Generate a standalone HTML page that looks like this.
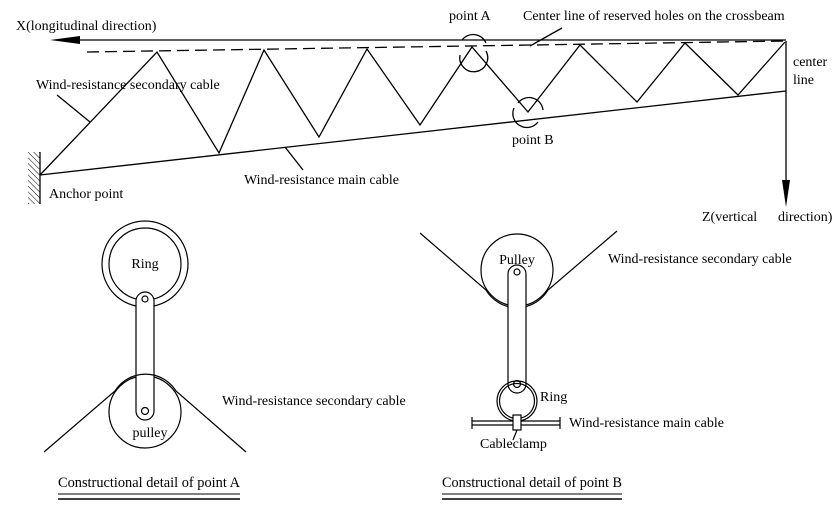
<!DOCTYPE html>
<html><head><meta charset="utf-8"><style>
html,body{margin:0;padding:0;background:#fff;}
svg{display:block;font-family:"Liberation Serif","DejaVu Serif",serif;}
svg text{font-family:"Liberation Serif","DejaVu Serif",serif;font-size:14px;fill:#000;}
</style></head><body>
<svg width="838" height="505" viewBox="0 0 838 505" xmlns="http://www.w3.org/2000/svg" font-family="Liberation Serif, DejaVu Serif, serif">
<defs>
<pattern id="h" width="4" height="4" patternUnits="userSpaceOnUse" patternTransform="rotate(-45)">
<line x1="0" y1="0" x2="0" y2="4" stroke="#000" stroke-width="1"/>
</pattern>
</defs>
<g stroke="#000" stroke-width="1.3" fill="none">
<line x1="70" y1="40" x2="786" y2="40"/>
<line x1="87" y1="52" x2="786" y2="41" stroke-dasharray="12,6"/>
<polyline points="40,175 157,52 219,153 264,50 319,137 367,49 420,125 472,47 528,112 580,45 637,102 685,43 738,95 785,42"/>
<line x1="40" y1="175" x2="786" y2="91"/>
<line x1="786" y1="41" x2="786" y2="185"/>
<line x1="40" y1="152" x2="40" y2="204"/>
<path d="M460,55 A14,14 0 1 0 486,51"/>
<path d="M462,40 A14,14 0 0 1 486,43"/>
<path d="M514,108 A14,14 0 0 0 538,122"/>
<path d="M518,103 A14,14 0 0 1 543,110"/>
<line x1="57" y1="95" x2="90" y2="122"/>
<line x1="285" y1="147" x2="303" y2="170"/>
<line x1="562" y1="28" x2="530" y2="46"/>
</g>
<rect x="28" y="152" width="12" height="52" fill="url(#h)"/>
<polygon points="50,40 80,36 80,44" fill="#000"/>
<polygon points="786,207 782,180 790,180" fill="#000"/>
<text x="16" y="30">X(longitudinal direction)</text>
<text x="36" y="89">Wind-resistance secondary cable</text>
<text x="244" y="184">Wind-resistance main cable</text>
<text x="49" y="198">Anchor point</text>
<text x="449" y="20">point A</text>
<text x="512" y="144">point B</text>
<text x="523" y="20">Center line of reserved holes on the crossbeam</text>
<text x="793" y="66">center</text>
<text x="793" y="84">line</text>
<text x="702" y="221">Z(vertical</text>
<text x="778" y="221">direction)</text>

<g stroke="#000" stroke-width="1.2" fill="none">
<circle cx="145" cy="264" r="43"/>
<circle cx="145" cy="264" r="36"/>
<circle cx="145" cy="412" r="36" fill="#fff"/>
<rect x="136" y="292" width="18" height="128" rx="9" fill="#fff"/>
<circle cx="145" cy="299" r="3"/>
<circle cx="145" cy="411" r="3.5"/>
<path d="M44,452 L115,391 A36,36 0 0 1 176,391 L246,452"/>
</g>
<text x="145" y="268" text-anchor="middle">Ring</text>
<text x="150" y="437" text-anchor="middle">pulley</text>
<text x="222" y="405">Wind-resistance secondary cable</text>
<text x="58" y="487" textLength="182" lengthAdjust="spacingAndGlyphs" style="font-size:15px">Constructional detail of point A</text>
<line x1="58" y1="494" x2="240" y2="494" stroke="#000" stroke-width="1"/>
<line x1="58" y1="499" x2="240" y2="499" stroke="#000" stroke-width="1.5"/>

<g stroke="#000" stroke-width="1.2" fill="none">
<circle cx="517" cy="270" r="36"/>
<path d="M420,233 L486,290 A36,36 0 0 0 548,290 L617,231"/>
<rect x="508" y="265" width="18" height="128" rx="9" fill="#fff"/>
<circle cx="517" cy="401" r="20"/>
<circle cx="517" cy="401" r="17.5"/>
<circle cx="517" cy="272" r="3"/>
<circle cx="517" cy="384" r="3.5"/>
<line x1="472" y1="421" x2="560" y2="421"/>
<line x1="472" y1="425" x2="560" y2="425"/>
<line x1="472" y1="417" x2="472" y2="429"/>
<line x1="560" y1="417" x2="560" y2="429"/>
<rect x="513" y="415" width="8" height="15" fill="#fff"/>
<line x1="517" y1="430" x2="513" y2="440"/>
</g>
<text x="517" y="264" text-anchor="middle">Pulley</text>
<text x="608" y="263">Wind-resistance secondary cable</text>
<text x="540" y="401">Ring</text>
<text x="569" y="427">Wind-resistance main cable</text>
<text x="480" y="448">Cableclamp</text>
<text x="442" y="487" textLength="180" lengthAdjust="spacingAndGlyphs" style="font-size:15px">Constructional detail of point B</text>
<line x1="442" y1="494" x2="622" y2="494" stroke="#000" stroke-width="1"/>
<line x1="442" y1="499" x2="622" y2="499" stroke="#000" stroke-width="1.5"/>
</svg>
</body></html>
